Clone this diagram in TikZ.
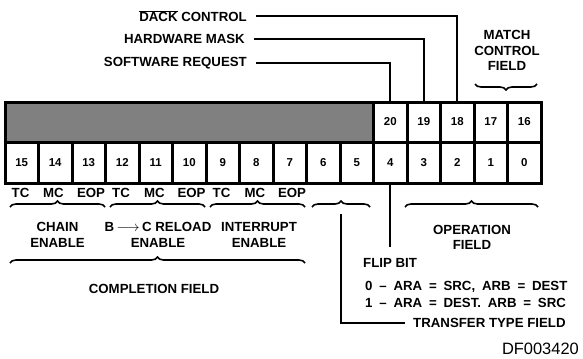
\documentclass[tikz,border=0pt]{standalone}
\usepackage{fontspec}
\setmainfont{Liberation Sans}
\usetikzlibrary{decorations.pathreplacing}

\newlength{\du}
\setlength{\du}{1bp}

\tikzset{
  cell/.style={draw, fill=white, line width=3\du, minimum width=33.5\du,
    inner sep=0pt, font=\fontsize{11.5}{13}\selectfont\bfseries},
  hatchbox/.style={draw, fill=black!50, line width=3\du, inner sep=0pt},
  lbl/.style={inner sep=0pt, font=\fontsize{13.3}{15.5}\selectfont\bfseries},
  wire/.style={line width=1.6\du},
  brace/.style={decorate, decoration={brace, amplitude=6\du}, line width=1.6\du},
}

\begin{document}
\begin{tikzpicture}
\pgftransformxscale{1.000000}
\pgftransformyscale{-1.000000}
\useasboundingbox (0\du,0\du) rectangle (583\du,358\du);
% upper half word
\node[hatchbox, minimum width=368.5\du, minimum height=40\du] (res) at (189.250000\du,122.000000\du) {};
\node[cell, minimum height=40\du] (c20) at (390.250000\du,122.000000\du) {20};
\node[cell, minimum height=40\du] (c19) at (423.750000\du,122.000000\du) {19};
\node[cell, minimum height=40\du] (c18) at (457.250000\du,122.000000\du) {18};
\node[cell, minimum height=40\du] (c17) at (490.750000\du,122.000000\du) {17};
\node[cell, minimum height=40\du] (c16) at (524.250000\du,122.000000\du) {16};
% lower half word
\node[cell, minimum height=41\du] (b15) at (21.750000\du,162.500000\du) {15};
\node[cell, minimum height=41\du] (b14) at (55.250000\du,162.500000\du) {14};
\node[cell, minimum height=41\du] (b13) at (88.750000\du,162.500000\du) {13};
\node[cell, minimum height=41\du] (b12) at (122.250000\du,162.500000\du) {12};
\node[cell, minimum height=41\du] (b11) at (155.750000\du,162.500000\du) {11};
\node[cell, minimum height=41\du] (b10) at (189.250000\du,162.500000\du) {10};
\node[cell, minimum height=41\du] (b9) at (222.750000\du,162.500000\du) {9};
\node[cell, minimum height=41\du] (b8) at (256.250000\du,162.500000\du) {8};
\node[cell, minimum height=41\du] (b7) at (289.750000\du,162.500000\du) {7};
\node[cell, minimum height=41\du] (b6) at (323.250000\du,162.500000\du) {6};
\node[cell, minimum height=41\du] (b5) at (356.750000\du,162.500000\du) {5};
\node[cell, minimum height=41\du] (b4) at (390.250000\du,162.500000\du) {4};
\node[cell, minimum height=41\du] (b3) at (423.750000\du,162.500000\du) {3};
\node[cell, minimum height=41\du] (b2) at (457.250000\du,162.500000\du) {2};
\node[cell, minimum height=41\du] (b1) at (490.750000\du,162.500000\du) {1};
\node[cell, minimum height=41\du] (b0) at (524.250000\du,162.500000\du) {0};
% top labels
\node[lbl, anchor=east, inner xsep=9\du] (dack) at (256.000000\du,16.000000\du) {$\overline{\hbox{DACK}}$ CONTROL};
\node[lbl, anchor=east, inner xsep=9\du] (hwmask) at (254.000000\du,39.000000\du) {HARDWARE MASK};
\node[lbl, anchor=east, inner xsep=9\du] (swreq) at (256.000000\du,63.000000\du) {SOFTWARE REQUEST};
\draw[wire] (dack.east) -| (c18.north);
\draw[wire] (hwmask.east) -| (c19.north);
\draw[wire] (swreq.east) -| (c20.north);
\node[lbl, align=center] (match) at (507.000000\du,50.500000\du) {MATCH\\CONTROL\\FIELD};
\draw[brace] (537.000000\du,84.000000\du) -- (475.000000\du,84.000000\du);
% bit labels
\node[lbl] (tc15) at (20.500000\du,193.000000\du) {TC};
\node[lbl] (mc14) at (53.500000\du,193.000000\du) {MC};
\node[lbl] (eop13) at (91.000000\du,193.000000\du) {EOP};
\node[lbl] (tc12) at (121.000000\du,193.000000\du) {TC};
\node[lbl] (mc11) at (154.500000\du,193.000000\du) {MC};
\node[lbl] (eop10) at (191.500000\du,193.000000\du) {EOP};
\node[lbl] (tc9) at (221.500000\du,193.000000\du) {TC};
\node[lbl] (mc8) at (255.000000\du,193.000000\du) {MC};
\node[lbl] (eop7) at (292.000000\du,193.000000\du) {EOP};
% field braces
\draw[brace] (10.000000\du,207.000000\du) -- (105.000000\du,207.000000\du);
\draw[brace] (110.000000\du,207.000000\du) -- (205.000000\du,207.000000\du);
\draw[brace] (210.000000\du,207.000000\du) -- (305.000000\du,207.000000\du);
\draw[brace] (312.000000\du,207.000000\du) -- (370.000000\du,207.000000\du);
\draw[brace] (405.000000\du,207.000000\du) -- (538.000000\du,207.000000\du);
\draw[brace] (10.000000\du,263.000000\du) -- (305.000000\du,263.000000\du);
\node[lbl, align=center] (chain) at (57.500000\du,235.000000\du) {CHAIN\\ENABLE};
\node[lbl, align=center] (reload) at (158.000000\du,235.000000\du) {B$\,\longrightarrow\,$C RELOAD\\ENABLE};
\node[lbl, align=center] (intr) at (259.000000\du,235.000000\du) {INTERRUPT\\ENABLE};
\node[lbl, align=center] (opfield) at (472.000000\du,237.500000\du) {OPERATION\\FIELD};
\node[lbl] (compl) at (154.000000\du,289.000000\du) {COMPLETION FIELD};
% flip bit
\coordinate (flipend) at (390.250000\du,247.000000\du);
\draw[wire] (b4.south) -- (flipend);
\node[lbl, anchor=west] (flip) at (363.000000\du,263.000000\du) {FLIP BIT};
\node[lbl, anchor=west] (flip0) at (365.000000\du,287.000000\du) {\spaceskip=6.8\du 0 -- ARA = SRC, ARB = DEST};
\node[lbl, anchor=west] (flip1) at (365.000000\du,303.000000\du) {\spaceskip=6.8\du 1 -- ARA = DEST. ARB = SRC};
% transfer type
\coordinate (ttip) at (341.000000\du,214.000000\du);
\node[lbl, anchor=west, inner xsep=8\du] (ttype) at (405.000000\du,323.000000\du) {TRANSFER TYPE FIELD};
\draw[wire] (ttip) |- (ttype.west);
\node[anchor=east, inner sep=0pt, font=\fontsize{16.5}{19}\selectfont] (dfnum) at (579.000000\du,348.500000\du) {DF003420};
\end{tikzpicture}
\end{document}
